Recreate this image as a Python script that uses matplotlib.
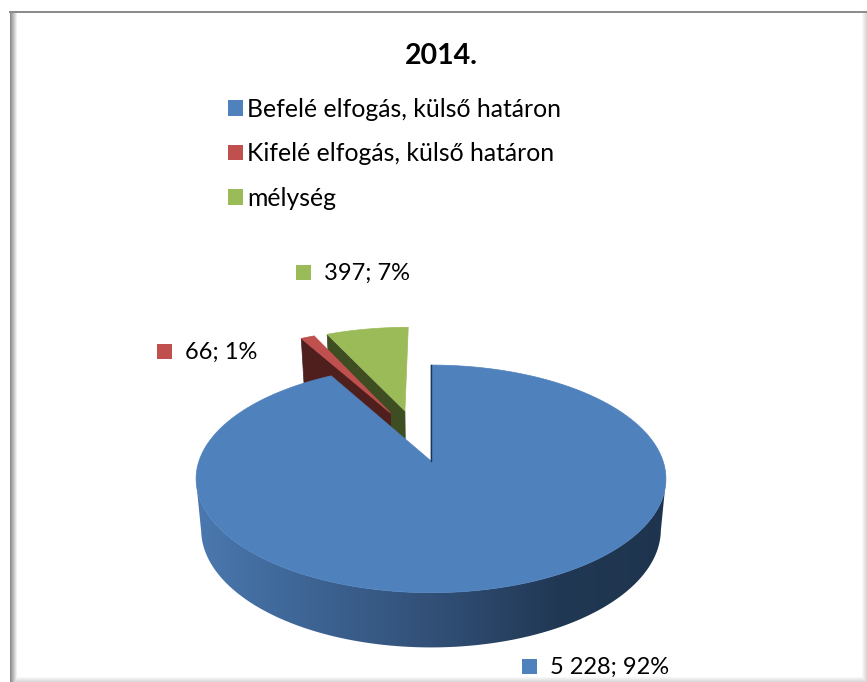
import numpy as np
import matplotlib
matplotlib.use('Agg')
import matplotlib.pyplot as plt
from matplotlib.patches import Patch, Polygon, Rectangle

plt.rcParams['font.family'] = ['Lato', 'DejaVu Sans']

titulo = '2014.'
categorias = ['Befelé elfogás, külső határon', 'Kifelé elfogás, külső határon', 'mélység']
valores = [5228, 66, 397]
explosion = [0.0, 0.5, 0.5]
direccion = [0, 338, 346]
colores = ['#4f81bd', '#c0504d', '#9bbb59']
oscuros = ['#274060', '#4f1f1e', '#3f4d22']
pos_etiquetas = [(522, 659), (157, 344), (296, 265)]

# proyeccion del disco (pixeles de la figura)
X0, Y0, AX, BY, K = 431, 461, 232, 111, 0.157
Y0_B, AX_B, BY_B = 511, 227, 115


def proyectar(u, v, abajo=False):
    d = 1 + K * v
    if abajo:
        return X0 + AX_B * u / d, Y0_B - BY_B * v / d
    return X0 + AX * u / d, Y0 - BY * v / d


def borde(t1, t2, e, tm, abajo=False):
    t = np.radians(np.linspace(t1, t2, 300))
    m = np.radians(tm)
    du, dv = e * np.sin(m), e * np.cos(m)
    x, y = proyectar(np.sin(t) + du, np.cos(t) + dv, abajo)
    ax0, ay0 = proyectar(du, dv, abajo)
    return x, y, ax0, ay0


fig = plt.figure(figsize=(8.67, 6.82), dpi=100)
ax = fig.add_axes([0, 0, 1, 1])

# degradado del lado del disco azul
xs = np.arange(190, 672)
paradas = [197, 300, 430, 560, 666]
degradado = np.zeros((1, len(xs), 3))
degradado[0, :, 0] = np.interp(xs, paradas, [75, 62, 50, 33, 30]) / 255
degradado[0, :, 1] = np.interp(xs, paradas, [120, 102, 80, 56, 52]) / 255
degradado[0, :, 2] = np.interp(xs, paradas, [175, 150, 120, 84, 78]) / 255

ax.set_xlim(0, 867)
ax.set_ylim(682, 0)
ax.axis('off')

# marco con sombra
for i in range(7):
    g = 0.55 + 0.45 * i / 7
    ax.add_patch(Rectangle((10 + i, 12), 1, 670, color=(g, g, g), lw=0))
ax.add_patch(Rectangle((9, 11), 858, 2, color='#8c8c8c', lw=0))
for i in range(5):
    g = 1 - 0.03 * (i + 1)
    ax.add_patch(Rectangle((862 + i, 13), 1, 669, color=(g, g, g), lw=0))
    ax.add_patch(Rectangle((16, 677 + i), 851, 1, color=(g, g, g), lw=0))

total = sum(valores)
angulos = np.cumsum([0] + valores) / total * 360

# de atras hacia adelante: verde, rojo, azul
for i in [2, 1, 0]:
    t1, t2 = angulos[i], angulos[i + 1]
    x, y, xc, yc = borde(t1, t2, explosion[i], direccion[i])
    xb, yb, xcb, ycb = borde(t1, t2, explosion[i], direccion[i], abajo=True)
    if i == 0:
        # el contorno va de un extremo del disco al otro
        lado = np.cos(np.radians(np.linspace(t1, t2, 300))) < -K
        contorno = Polygon(np.column_stack([np.r_[x[lado], xb[lado][::-1]], np.r_[y[lado], yb[lado][::-1]]]),
                           closed=True, transform=ax.transData, fc='none', ec='none')
        ax.add_patch(contorno)
        im = ax.imshow(degradado, extent=(xs[0], xs[-1], 660, 440), aspect='auto', interpolation='bilinear')
        im.set_clip_path(contorno)
        ax.plot([xc, x[0]], [yc, y[0]], color='#1f3550', lw=1)
    else:
        # cara del corte visible, la de la izquierda
        ax.add_patch(Polygon([(x[0], y[0]), (xc, yc), (xcb, ycb), (xb[0], yb[0])],
                             closed=True, fc=oscuros[i], ec=oscuros[i], lw=0.5))
    ax.add_patch(Polygon(np.column_stack([np.r_[xc, x], np.r_[yc, y]]), closed=True,
                         fc=colores[i], ec=colores[i], lw=0.5))

ax.set_xlim(0, 867)
ax.set_ylim(682, 0)

ax.text(441, 55.5, titulo, ha='center', va='center', fontsize=20.5, fontweight='bold', color='black')

marcas = [Patch(fc=c, ec='none') for c in colores]
ax.legend(marcas, categorias, loc='upper left', bbox_to_anchor=(228 / 867, 1 - 98 / 682),
          frameon=False, fontsize=17.8, handlelength=0.6, handleheight=0.6,
          handletextpad=0.16, labelspacing=0.86, borderpad=0, borderaxespad=0)

for v, c, (px, py) in zip(valores, colores, pos_etiquetas):
    ax.add_patch(Rectangle((px, py), 15, 15, fc=c, ec='none'))
    txt = f'{v:,}'.replace(',', ' ') + f'; {100 * v / total:.0f}%'
    ax.text(px + 28, py + 8, txt, ha='left', va='center', fontsize=17, color='black')

fig.savefig('out.png', dpi=100)
